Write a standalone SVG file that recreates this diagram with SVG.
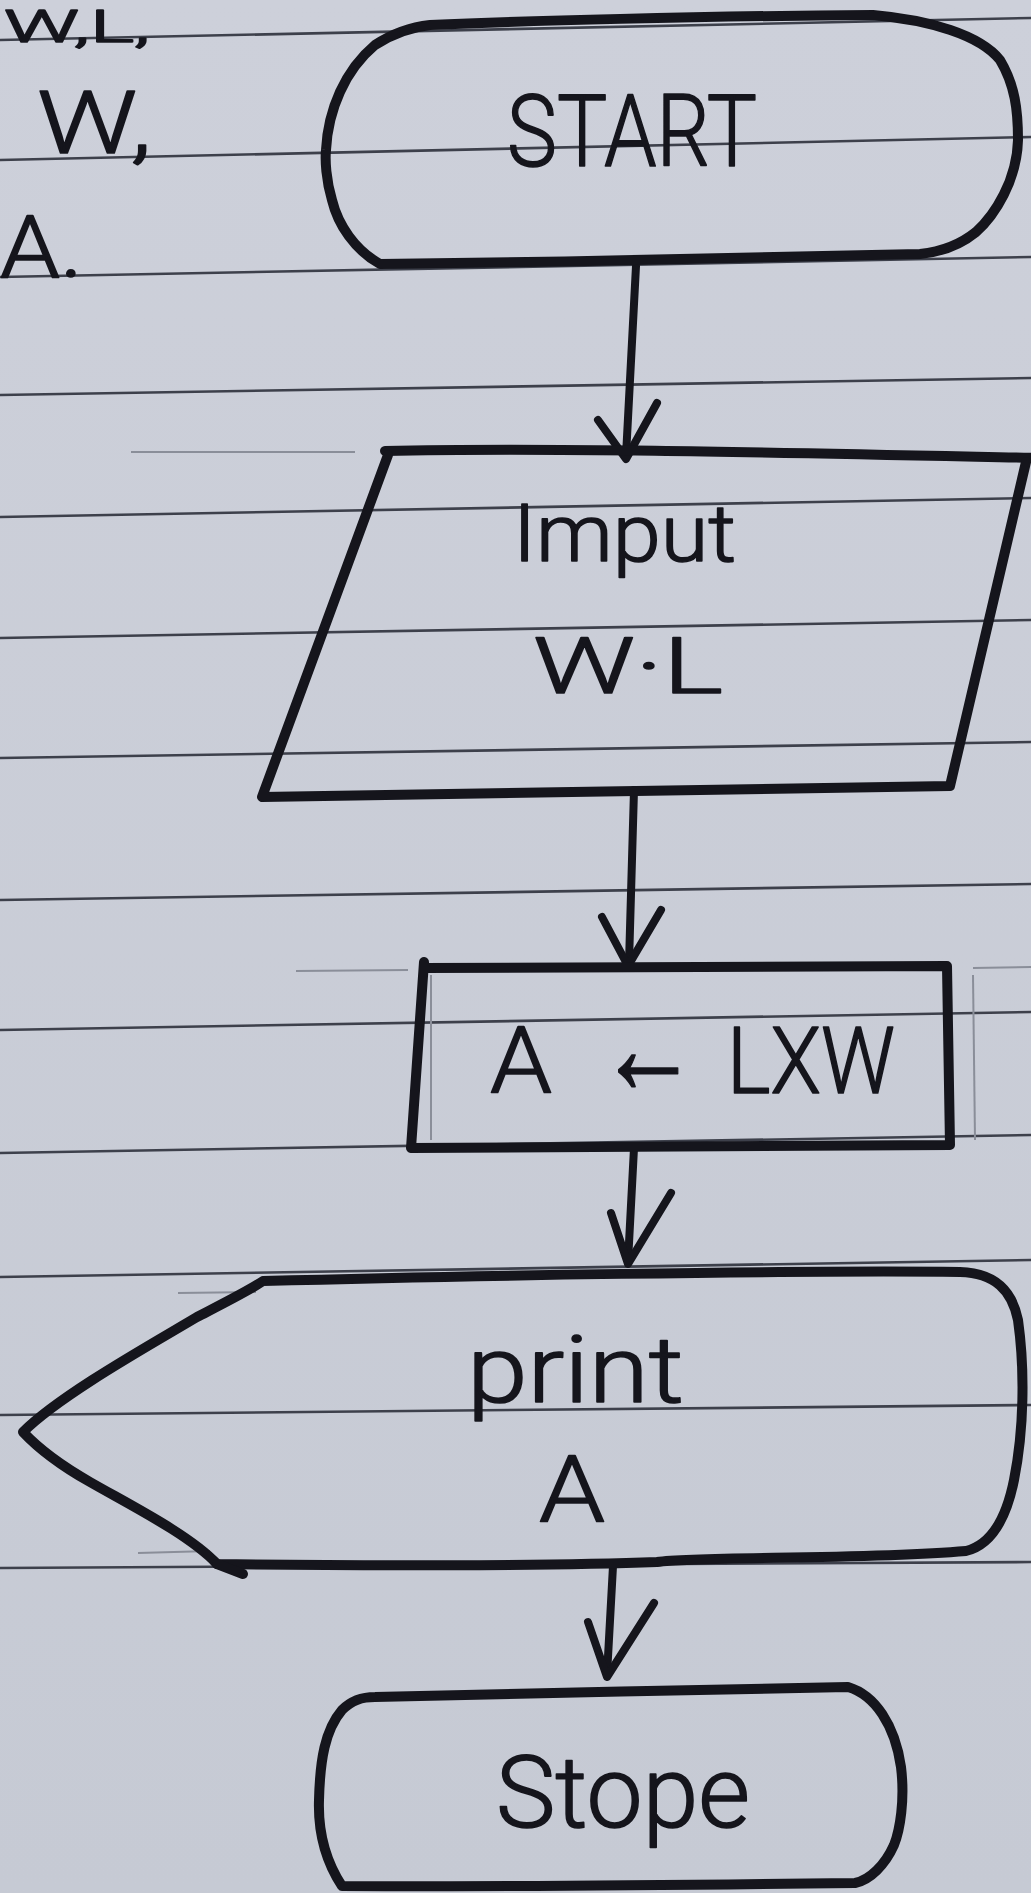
<svg xmlns="http://www.w3.org/2000/svg" width="1031" height="1893" viewBox="0 0 1031 1893">
  <defs>
    <linearGradient id="paper" x1="0" y1="0" x2="0" y2="1">
      <stop offset="0" stop-color="#cdd0da"/>
      <stop offset="1" stop-color="#c6cad4"/>
    </linearGradient>
    <style>
      .rule { stroke: #3d404b; stroke-width: 2.6; fill: none; }
      .faint { stroke: #8a8e99; stroke-width: 2; fill: none; }
      .ink { stroke: #15151c; stroke-width: 10; fill: none; stroke-linecap: round; stroke-linejoin: round; }
      .wire { stroke: #15151c; stroke-width: 8; fill: none; stroke-linecap: round; stroke-linejoin: round; }
      .hand { font-family: Roboto, "Liberation Sans", "DejaVu Sans", sans-serif; font-weight: 300; fill: #15151c; stroke: #15151c; stroke-width: 1.6; stroke-linejoin: round; }
    </style>
  </defs>

  <!-- notebook paper -->
  <rect width="1031" height="1893" fill="url(#paper)"/>
  <g id="ruled-lines">
    <path class="rule" d="M0 40 L1031 18"/>
    <path class="rule" d="M0 160 L1031 137"/>
    <path class="rule" d="M0 277 L1031 257"/>
    <path class="rule" d="M0 395 L1031 378"/>
    <path class="rule" d="M0 517 L1031 498"/>
    <path class="rule" d="M0 638 L1031 620"/>
    <path class="rule" d="M0 758 L1031 742"/>
    <path class="rule" d="M0 900 L1031 884"/>
    <path class="rule" d="M0 1030 L1031 1012"/>
    <path class="rule" d="M0 1153 L1031 1135"/>
    <path class="rule" d="M0 1277 L1031 1260"/>
    <path class="rule" d="M0 1415 L1031 1405"/>
    <path class="rule" d="M0 1568 L1031 1562"/>
    <path class="faint" d="M131 452 L355 452"/>
    <path class="faint" d="M296 971 L408 970"/>
    <path class="faint" d="M973 968 L1031 967"/>
    <path class="faint" d="M431 975 L431 1140"/>
    <path class="faint" d="M973 975 L975 1140"/>
    <path class="faint" d="M178 1293 L256 1292"/>
    <path class="faint" d="M138 1553 L210 1551"/>
  </g>

  <!-- margin notes -->
  <g id="notes">
    <text class="hand" x="4" y="42" font-size="44" textLength="146" lengthAdjust="spacingAndGlyphs">W,L,</text>
    <text class="hand" x="37" y="153" font-size="88" textLength="115" lengthAdjust="spacingAndGlyphs">W,</text>
    <text class="hand" x="0" y="277" font-size="88" textLength="83" lengthAdjust="spacingAndGlyphs">A.</text>
  </g>

  <!-- flow arrows -->
  <g id="connectors">
    <path class="wire" d="M636 266 L626 456"/>
    <path class="wire" d="M598 420 L626 459 L657 403"/>
    <path class="wire" d="M634 790 L629 963"/>
    <path class="wire" d="M602 917 L628 966 L661 910"/>
    <path class="wire" d="M634 1148 L628 1262"/>
    <path class="wire" d="M611 1213 L628 1264 L671 1193"/>
    <path class="wire" d="M613 1566 L607 1675"/>
    <path class="wire" d="M588 1622 L607 1677 L654 1603"/>
  </g>

  <g id="start">
    <path class="ink" d="M430 25 C520 21 700 16 873 15 C930 20 980 35 1000 60 C1015 85 1018 110 1018 140 C1017 180 995 215 976 232 C960 245 940 252 920 254 C760 258 560 262 380 264 C355 250 338 225 332 200 C326 180 325 160 326 150 C328 110 345 70 375 45 C395 32 412 27 430 25 Z"/>
    <text class="hand" x="507" y="166" font-size="100" textLength="250" lengthAdjust="spacingAndGlyphs">START</text>
  </g>

  <g id="input">
    <path class="ink" d="M385 451 C550 447 800 453 1040 458"/>
    <path class="ink" d="M388 455 L262 797 L950 786 L1026 462"/>
    <text class="hand" x="513" y="561" font-size="80" textLength="223" lengthAdjust="spacingAndGlyphs">Imput</text>
    <text class="hand" x="533" y="693" font-size="78" textLength="190" lengthAdjust="spacingAndGlyphs">W·L</text>
  </g>

  <g id="process">
    <path class="ink" d="M424 962 L411 1148 L950 1145 L947 966 L424 968"/>
    <text class="hand" y="1093" font-size="92"><tspan x="490" textLength="62" lengthAdjust="spacingAndGlyphs">A</tspan> <tspan x="598" font-size="135" textLength="100" lengthAdjust="spacingAndGlyphs">←</tspan> <tspan x="727" textLength="168" lengthAdjust="spacingAndGlyphs">LXW</tspan></text>
  </g>

  <g id="display">
    <path class="ink" d="M263 1281 C450 1276 800 1270 960 1272 C995 1273 1012 1290 1018 1320 C1025 1370 1024 1430 1014 1480 C1006 1520 990 1545 966 1551 C860 1560 700 1556 657 1562 C550 1566 350 1566 217 1564 C190 1535 130 1505 90 1482 C60 1465 38 1448 23 1432 C60 1395 150 1345 197 1317 C230 1300 250 1290 263 1281 Z"/>
    <path class="ink" d="M217 1564 L243 1574"/>
    <text class="hand" x="467" y="1402" font-size="92" textLength="217" lengthAdjust="spacingAndGlyphs">print</text>
    <text class="hand" x="539" y="1522" font-size="92" textLength="66" lengthAdjust="spacingAndGlyphs">A</text>
  </g>

  <g id="stop">
    <path class="ink" d="M375 1697 C520 1693 700 1690 848 1687 C875 1695 895 1725 901 1767 C905 1800 900 1830 894 1845 C885 1865 870 1880 855 1883 C700 1885 500 1887 342 1886 C325 1860 318 1830 319 1800 C320 1760 325 1730 342 1710 C352 1700 362 1697 375 1697 Z"/>
    <text class="hand" x="496" y="1827" font-size="100" textLength="254" lengthAdjust="spacingAndGlyphs">Stope</text>
  </g>
</svg>
